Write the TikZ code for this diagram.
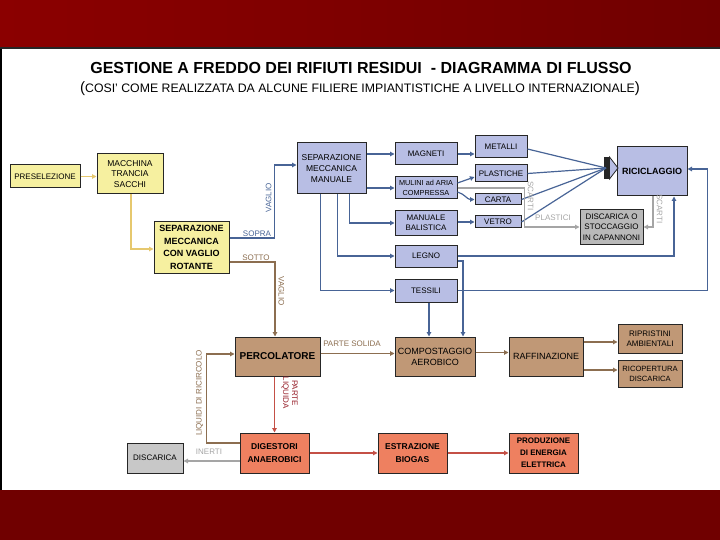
\documentclass[tikz,border=0pt]{standalone}
\usepackage{fontspec}
\setmainfont{Liberation Sans}
\usetikzlibrary{arrows.meta,calc}
\definecolor{bandA}{RGB}{139,0,0}
\definecolor{bandB}{RGB}{112,0,0}
\definecolor{yel}{RGB}{246,240,160}
\definecolor{lav}{RGB}{184,190,228}
\definecolor{brn}{RGB}{192,152,118}
\definecolor{sal}{RGB}{238,128,96}
\definecolor{gry}{RGB}{200,200,200}
\definecolor{gryd}{RGB}{185,185,185}
\definecolor{lblue}{RGB}{72,100,150}
\definecolor{lbrown}{RGB}{140,110,80}
\definecolor{lyel}{RGB}{230,200,110}
\definecolor{lred}{RGB}{196,80,70}
\definecolor{lgray}{RGB}{165,165,165}
\definecolor{dred}{RGB}{150,30,40}
\tikzset{
  box/.style={draw=black!85, line width=1pt, align=center, inner sep=0.5pt,
    font=\fontsize{8}{10}\selectfont},
  bbox/.style={box, font=\fontsize{9}{12.5}\selectfont\bfseries},
  conn/.style={line width=1.2pt, -{Triangle[length=4.5pt,width=4.5pt]}},
  cblue/.style={conn, draw=lblue, color=lblue},
  cbrown/.style={conn, draw=lbrown, color=lbrown},
  cyel/.style={conn, draw=lyel, color=lyel},
  cred/.style={conn, draw=lred, color=lred},
  cgray/.style={conn, draw=lgray, color=lgray},
  lbl/.style={inner sep=0pt, font=\fontsize{8}{9}\selectfont},
}
\begin{document}
\begin{tikzpicture}[x=1pt,y=-1pt]
\useasboundingbox (0,0) rectangle (720,540);
% bands
\shade[left color=bandA, right color=bandB] (0,0) rectangle (720,47);
\fill[black!85] (0,47) rectangle (720,49);
\fill[bandB] (0,490) rectangle (720,540);
\fill[black] (0,49) rectangle (1.5,490);
% title
\node[inner sep=0pt] (title) at (361,68) {\fontsize{16}{18}\selectfont\bfseries GESTIONE A FREDDO DEI RIFIUTI RESIDUI \ - DIAGRAMMA DI FLUSSO};
\node[inner sep=0pt] (subtitle) at (360,89) {{\fontsize{15}{15}\selectfont(}\fontsize{12.3}{14}\selectfont COSI’ COME REALIZZATA DA ALCUNE FILIERE IMPIANTISTICHE A LIVELLO INTERNAZIONALE{\fontsize{15}{15}\selectfont)}};

% yellow boxes
\node[box, fill=yel, minimum width=70pt, minimum height=23pt] (pre) at (45,176.5) {PRESELEZIONE};
\node[box, fill=yel, minimum width=66pt, minimum height=40pt, font=\fontsize{8.5}{10.5}\selectfont] (mac) at (130,174) {MACCHINA\\TRANCIA\\SACCHI};
\node[bbox, fill=yel, minimum width=75pt, minimum height=51pt] (sepv) at (191.5,247.5) {SEPARAZIONE\\MECCANICA\\CON VAGLIO\\ROTANTE};

% lavender boxes
\node[box, fill=lav, minimum width=69pt, minimum height=51pt, font=\fontsize{8.5}{11}\selectfont] (sepm) at (331.5,168.5) {SEPARAZIONE\\MECCANICA\\MANUALE};
\node[box, fill=lav, minimum width=62pt, minimum height=22pt] (mag) at (426,154) {MAGNETI};
\node[box, fill=lav, minimum width=62pt, minimum height=22pt, font=\fontsize{7.3}{10}\selectfont] (mul) at (426,188) {MULINI ad ARIA\\COMPRESSA};
\node[box, fill=lav, minimum width=62pt, minimum height=24pt] (bal) at (426,223) {MANUALE\\BALISTICA};
\node[box, fill=lav, minimum width=62pt, minimum height=22pt] (leg) at (426,256) {LEGNO};
\node[box, fill=lav, minimum width=62pt, minimum height=23pt] (tes) at (426,290.5) {TESSILI};
\node[box, fill=lav, minimum width=52pt, minimum height=22pt] (met) at (501,147) {METALLI};
\node[box, fill=lav, minimum width=52pt, minimum height=17pt] (pla) at (501,173.5) {PLASTICHE};
\node[box, fill=lav, minimum width=46pt, minimum height=11pt, inner sep=0pt] (car) at (498,199.5) {CARTA};
\node[box, fill=lav, minimum width=46pt, minimum height=12pt, inner sep=0pt] (vet) at (498,222) {VETRO};
\node[bbox, fill=lav, minimum width=70pt, minimum height=49pt] (ric) at (652,171.5) {RICICLAGGIO};
\node[box, fill=gryd, minimum width=63pt, minimum height=34pt, font=\fontsize{8}{10.5}\selectfont] (dis) at (611.5,227) {DISCARICA O\\STOCCAGGIO\\IN CAPANNONI};

% brown boxes
\node[bbox, fill=brn, minimum width=85pt, minimum height=39pt, font=\fontsize{10}{12}\selectfont\bfseries] (perc) at (277.5,356.5) {PERCOLATORE};
\node[box, fill=brn, minimum width=80pt, minimum height=39pt, font=\fontsize{9}{11}\selectfont] (comp) at (435,356.5) {COMPOSTAGGIO\\AEROBICO};
\node[box, fill=brn, minimum width=74pt, minimum height=39pt, font=\fontsize{9}{11}\selectfont] (raf) at (546,356.5) {RAFFINAZIONE};
\node[box, fill=brn, minimum width=64pt, minimum height=29pt] (rip) at (650,338.5) {RIPRISTINI\\AMBIENTALI};
\node[box, fill=brn, minimum width=64pt, minimum height=27pt, font=\fontsize{7.6}{10}\selectfont] (ricop) at (650,373.5) {RICOPERTURA\\DISCARICA};

% bottom row
\node[box, fill=gry, minimum width=56pt, minimum height=30pt] (disc) at (155,458) {DISCARICA};
\node[bbox, fill=sal, minimum width=69pt, minimum height=40pt, font=\fontsize{8.5}{13}\selectfont\bfseries] (dig) at (274.5,453) {DIGESTORI\\ANAEROBICI};
\node[bbox, fill=sal, minimum width=69pt, minimum height=40pt, font=\fontsize{8.5}{13}\selectfont\bfseries] (est) at (412.5,453) {ESTRAZIONE\\BIOGAS};
\node[bbox, fill=sal, minimum width=69pt, minimum height=40pt, font=\fontsize{8}{12}\selectfont\bfseries] (prod) at (543.5,453) {PRODUZIONE\\DI ENERGIA\\ELETTRICA};

% entry arrow of RICICLAGGIO
\coordinate (conv) at (606,168);
\fill[black!85] (604,157) rectangle (609.5,179);
\draw[black!85, fill=lav, line width=0.8pt] (609.5,157) -- (618,168) -- (609.5,179) -- cycle;

% connectors: yellow
\draw[cyel] (pre.east) -- (pre.east -| mac.west);
\draw[cyel] ([xshift=1pt]mac.south) |- ([yshift=-1.5pt]sepv.west);

% sopra / sotto
\draw[cblue] ([yshift=9.5pt]sepv.east) -- ++(45,0) |- ([yshift=3.5pt]sepm.west);
\node[lbl, text=lblue] (lsopra) at (257,233.5) {SOPRA};
\node[lbl, text=lblue, rotate=90] (lvaglio1) at (268.5,198) {VAGLIO};
\draw[cbrown] ([yshift=-14.5pt]sepv.east) -| ([xshift=-2.5pt]perc.north);
\node[lbl, text=lbrown] (lsotto) at (256,257.5) {SOTTO};
\node[lbl, text=lbrown, rotate=-90] (lvaglio2) at (281.5,291) {VAGLIO};

% sepm outputs
\draw[cblue] (mag.west -| sepm.east) -- (mag.west);
\draw[cblue] (mul.west -| sepm.east) -- (mul.west);
\draw[cblue] ([xshift=18pt]sepm.south) |- (bal.west);
\draw[cblue] ([xshift=6pt]sepm.south) |- (leg.west);
\draw[cblue] ([xshift=-11pt]sepm.south) |- (tes.west);

\draw[cblue] (mag.east) -- (mag.east -| met.west);
\draw[cblue] ([yshift=5pt]mul.east) -- ([yshift=-3.5pt]pla.west);
\draw[cblue] ([yshift=-4pt]mul.east) to[out=-15,in=180] (car.west);
\draw[cblue] (vet.west -| bal.east) -- (vet.west);

% to RICICLAGGIO
\draw[lblue, line width=1.2pt] ([yshift=-2pt]met.east) -- (conv);
\draw[lblue, line width=1.2pt] (pla.east) -- (conv);
\draw[lblue, line width=1.2pt] (car.east) -- (conv);
\draw[lblue, line width=1.2pt] (vet.east) -- (conv);
\draw[cblue] (leg.east) -| ([xshift=22pt]ric.south);
\draw[cblue] (tes.east) -- ++(250,0) |- ([yshift=2.5pt]ric.east);

% to COMPOSTAGGIO
\coordinate (ct) at ([xshift=-6pt]comp.north);
\draw[cblue] (ct |- tes.south) -- (ct);
\draw[cblue] ([yshift=-5pt]leg.east) -| ([xshift=28pt]comp.north);

% scarti grey
\draw[cgray] (mul.east) -- ++(67,0) |- (dis.west);
\node[lbl, text=lgray, rotate=-90] (lscarti1) at (530.5,196) {SCARTI};
\node[lbl, text=lgray] (lplastici) at (553,218) {PLASTICI};
\draw[cgray] ([xshift=1pt]ric.south) |- (dis.east);
\node[lbl, text=lgray, rotate=-90] (lscarti2) at (659.5,209) {SCARTI};

% brown chain
\draw[cbrown] ([yshift=3pt]perc.east) -- ([yshift=3pt]comp.west);
\node[lbl, text=lbrown] (lsolida) at (352,344) {PARTE SOLIDA};
\draw[cbrown] ([yshift=4pt]comp.east) -- ([yshift=4pt]raf.west);
\coordinate (rin) at ([yshift=-3.5pt]rip.west);
\coordinate (cin) at ([yshift=3.5pt]ricop.west);
\draw[cbrown] (rin -| raf.east) -- (rin);
\draw[cbrown] (cin -| raf.east) -- (cin);

% red chain
\draw[cred] (dig.north |- perc.south) -- (dig.north);
\node[lbl, text=dred, rotate=-90, align=center, font=\fontsize{8}{9}\selectfont] (lliquida) at (289.5,393) {PARTE\\LIQUIDA};
\draw[cred] (dig.east) -- (est.west);
\draw[cred] (est.east) -- (prod.west);

% inerti and ricircolo
\draw[cgray] ([yshift=-8pt]dig.west) -- ([yshift=-3pt]disc.east);
\node[lbl, text=lgray] (linerti) at (209,452) {INERTI};
\draw[cbrown] ([yshift=10pt]dig.west) -- ++(-33,0) |- ([yshift=2.5pt]perc.west);
\node[lbl, text=lbrown, rotate=90] (lricircolo) at (199.5,393) {LIQUIDI DI RICIRCOLO};
\end{tikzpicture}
\end{document}
